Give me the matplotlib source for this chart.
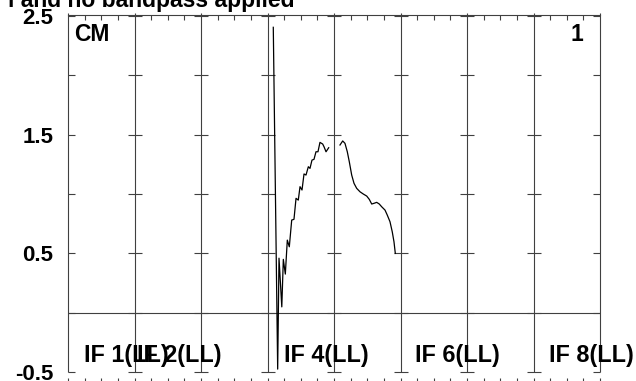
import matplotlib.pyplot as plt
from matplotlib.ticker import MultipleLocator

plt.rcParams['font.family'] = ['Liberation Sans', 'DejaVu Sans']

# Widma: x w jednostkach IF (0..8), y = amplituda
if4_x = [3.087, 3.153, 3.173, 3.215, 3.238, 3.268, 3.298, 3.328, 3.364, 3.398,
         3.429, 3.463, 3.489, 3.519, 3.549, 3.579, 3.614, 3.639, 3.669, 3.699,
         3.729, 3.759, 3.789, 3.830, 3.850, 3.880, 3.920]
if4_y = [2.404, -0.474, 0.460, 0.050, 0.450, 0.326, 0.612, 0.556, 0.781, 0.787,
         0.964, 0.949, 1.062, 1.034, 1.169, 1.160, 1.230, 1.216, 1.286, 1.292,
         1.356, 1.356, 1.435, 1.421, 1.398, 1.356, 1.390]

if5_x = [4.090, 4.131, 4.165, 4.200, 4.230, 4.266, 4.301, 4.341, 4.391, 4.441,
         4.492, 4.531, 4.567, 4.602, 4.642, 4.681, 4.717, 4.767, 4.801, 4.842,
         4.876, 4.902, 4.922]
if5_y = [1.413, 1.447, 1.427, 1.356, 1.272, 1.160, 1.090, 1.048, 1.019, 1.000,
         0.983, 0.955, 0.916, 0.922, 0.930, 0.916, 0.893, 0.865, 0.823, 0.767,
         0.682, 0.598, 0.500]

if_bounds = [0, 1, 2, 3, 4, 5, 6, 7, 8]
if_labels = ["IF 1(LL)", "IF 2(LL)", "IF 4(LL)", "IF 6(LL)", "IF 8(LL)"]
if_label_x = [0.24, 1.04, 3.25, 5.22, 7.24]
y_ticks = [-0.5, 0.0, 0.5, 1.0, 1.5, 2.0, 2.5]
y_ticklabels = ["-0.5", "", "0.5", "", "1.5", "", "2.5"]

W, H = 636, 381
fig = plt.figure(figsize=(W / 100, H / 100), dpi=100)
ax = fig.add_axes([68 / W, (H - 383) / H, (600 - 68) / W, (383 - 15.3) / H])
ax.set_xlim(0, 8)
ax.set_ylim(-0.591, 2.505)

grid_c = '0.25'
for s in ['left', 'right', 'bottom']:
    ax.spines[s].set_visible(False)
ax.spines['top'].set_color(grid_c)
ax.spines['top'].set_linewidth(0.8)

# pionowe linie granic IF
ax.vlines(if_bounds, -0.5, 2.522, color=grid_c, lw=0.8, clip_on=False)
ax.axhline(0, color=grid_c, lw=0.8)

# krzyżyki na wewnętrznych granicach
for b in if_bounds[1:-1]:
    ax.plot([b] * len(y_ticks), y_ticks, ls='none', marker='_', ms=10,
            mew=0.8, color=grid_c)

# widma
ax.plot(if4_x, if4_y, color='black', lw=0.9)
ax.plot(if5_x, if5_y, color='black', lw=0.9)

# osie
ax.set_yticks(y_ticks)
ax.set_yticklabels(y_ticklabels, fontsize=16, fontweight='bold')
ax.tick_params(axis='y', direction='in', length=5, width=0.8, color=grid_c,
               left=True, right=True, pad=10.5)
ax.xaxis.set_major_locator(MultipleLocator(1))
ax.xaxis.set_minor_locator(MultipleLocator(0.25))
ax.tick_params(axis='x', which='both', direction='in', length=3.6, width=0.8,
               color=grid_c, top=True, bottom=True, labelbottom=False)
ax.tick_params(axis='x', which='major', top=False)

for lab, lx in zip(if_labels, if_label_x):
    ax.text(lx, -0.413, lab, fontsize=16.8, fontweight='bold', ha='left', va='baseline')

fig.text(74 / W, 1 - 40.7 / H, "CM", fontsize=16.5, fontweight='bold', va='baseline')
fig.text(583 / W, 1 - 40.7 / H, "1", fontsize=16.5, fontweight='bold',
         va='baseline', ha='right')
fig.text(295 / W, 1 - 7 / H, "l and no bandpass applied", fontsize=16.5,
         fontweight='bold', va='baseline', ha='right')

fig.savefig("out.png", dpi=100)
plt.close(fig)
